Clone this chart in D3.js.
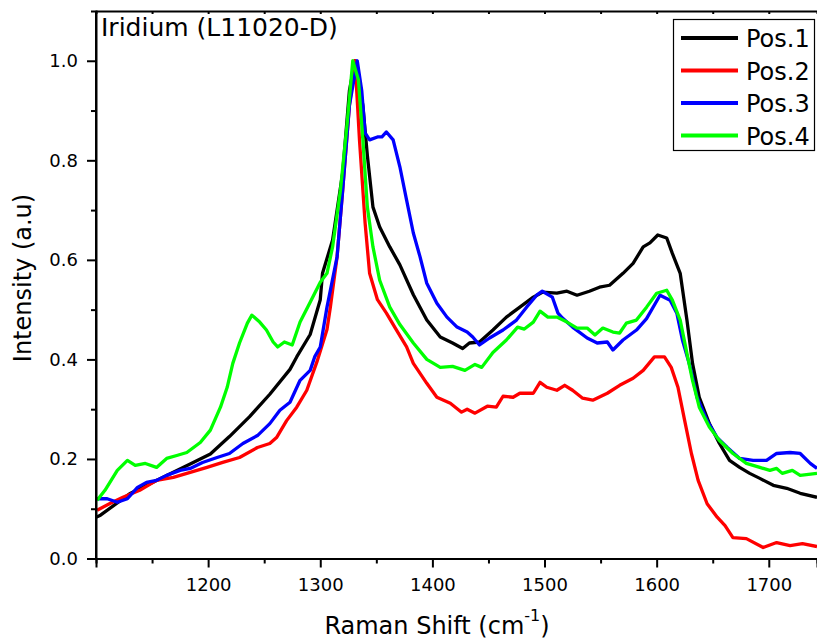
<!DOCTYPE html>
<html>
<head>
<meta charset="utf-8">
<script src="https://cdn.jsdelivr.net/npm/d3@7"></script>
<style>
    body { margin: 0; background: #fff; }
    text { font-family: "DejaVu Sans", Verdana, sans-serif; fill: #000; }
</style>
</head>
<body>
<div id="chart"></div>
<script>
// Raman spectra, [shift, intensity]
var pos1 = [[1100, 0.083], [1104, 0.087], [1130, 0.13], [1148, 0.15], [1184, 0.19], [1202, 0.21], [1219, 0.245],
    [1237, 0.285], [1255, 0.33], [1273, 0.38], [1279, 0.405], [1291, 0.45], [1300, 0.52], [1302, 0.573], [1311, 0.64],
    [1320, 0.775], [1326, 0.94], [1331, 1.0], [1338, 0.91], [1342, 0.81], [1347, 0.706], [1353, 0.666], [1362, 0.626],
    [1371, 0.59], [1383, 0.53], [1395, 0.479], [1407, 0.445], [1418, 0.433], [1427, 0.422], [1433, 0.433], [1442, 0.435],
    [1454, 0.459], [1466, 0.485], [1478, 0.505], [1490, 0.525], [1498, 0.535], [1511, 0.533], [1520, 0.537], [1529, 0.529],
    [1540, 0.537], [1549, 0.545], [1558, 0.549], [1570, 0.573], [1579, 0.593], [1588, 0.626], [1594, 0.634], [1601, 0.65],
    [1609, 0.644], [1614, 0.613], [1621, 0.573], [1627, 0.479], [1632, 0.392], [1638, 0.324], [1647, 0.271], [1656, 0.231],
    [1665, 0.197], [1674, 0.183], [1683, 0.171], [1692, 0.161], [1704, 0.147], [1716, 0.141], [1728, 0.131], [1743, 0.123]]

var pos2 = [[1101, 0.097], [1112, 0.11], [1124, 0.123], [1139, 0.137], [1154, 0.157], [1169, 0.163], [1184, 0.173],
    [1199, 0.183], [1213, 0.193], [1228, 0.203], [1244, 0.223], [1255, 0.231], [1261, 0.243], [1270, 0.277], [1279, 0.304],
    [1288, 0.338], [1297, 0.395], [1306, 0.46], [1309, 0.505], [1315, 0.606], [1320, 0.74], [1326, 0.91], [1331, 1.0],
    [1335, 0.84], [1340, 0.674], [1344, 0.573], [1351, 0.52], [1359, 0.493], [1368, 0.459], [1377, 0.425], [1383, 0.392],
    [1395, 0.352], [1404, 0.324], [1416, 0.312], [1426, 0.294], [1431, 0.3], [1438, 0.292], [1449, 0.306], [1457, 0.304],
    [1463, 0.326], [1472, 0.324], [1478, 0.332], [1490, 0.332], [1496, 0.354], [1502, 0.344], [1511, 0.338], [1518, 0.348],
    [1525, 0.338], [1534, 0.322], [1543, 0.318], [1556, 0.332], [1567, 0.348], [1579, 0.362], [1588, 0.378], [1598, 0.405],
    [1607, 0.405], [1613, 0.384], [1619, 0.344], [1625, 0.277], [1631, 0.211], [1637, 0.157], [1645, 0.11], [1654, 0.083],
    [1661, 0.066], [1668, 0.042], [1680, 0.04], [1695, 0.022], [1707, 0.032], [1719, 0.026], [1730, 0.03], [1743, 0.024]]

var pos3 = [[1101, 0.12], [1110, 0.12], [1119, 0.113], [1128, 0.12], [1137, 0.143], [1145, 0.153], [1154, 0.157],
    [1163, 0.167], [1175, 0.177], [1184, 0.181], [1195, 0.193], [1208, 0.203], [1219, 0.211], [1231, 0.231], [1244, 0.247],
    [1255, 0.271], [1264, 0.298], [1273, 0.314], [1282, 0.358], [1291, 0.378], [1295, 0.405], [1300, 0.425], [1306, 0.505],
    [1315, 0.606], [1320, 0.74], [1326, 0.91], [1333, 1.0], [1337, 0.94], [1340, 0.855], [1344, 0.841], [1351, 0.847],
    [1355, 0.847], [1359, 0.857], [1365, 0.841], [1371, 0.787], [1377, 0.72], [1383, 0.654], [1389, 0.606], [1395, 0.553],
    [1404, 0.513], [1413, 0.485], [1422, 0.465], [1431, 0.455], [1436, 0.445], [1442, 0.429], [1451, 0.443], [1463, 0.459],
    [1475, 0.479], [1484, 0.505], [1493, 0.529], [1498, 0.537], [1507, 0.525], [1512, 0.493], [1516, 0.483], [1525, 0.465],
    [1538, 0.443], [1547, 0.433], [1556, 0.435], [1561, 0.419], [1570, 0.439], [1582, 0.459], [1591, 0.482], [1603, 0.529],
    [1612, 0.519], [1618, 0.493], [1623, 0.439], [1630, 0.384], [1636, 0.324], [1645, 0.277], [1654, 0.243], [1663, 0.223],
    [1674, 0.201], [1686, 0.197], [1698, 0.197], [1707, 0.211], [1719, 0.213], [1728, 0.211], [1737, 0.191], [1743, 0.181]]

var pos4 = [[1101, 0.117], [1108, 0.137], [1119, 0.177], [1128, 0.197], [1135, 0.187], [1144, 0.191], [1154, 0.183],
    [1163, 0.201], [1172, 0.207], [1181, 0.213], [1193, 0.233], [1202, 0.258], [1211, 0.304], [1217, 0.344], [1222, 0.392],
    [1228, 0.433], [1235, 0.473], [1239, 0.489], [1246, 0.475], [1252, 0.459], [1258, 0.435], [1262, 0.425], [1268, 0.435],
    [1275, 0.429], [1282, 0.475], [1291, 0.515], [1300, 0.555], [1306, 0.573], [1311, 0.626], [1318, 0.74], [1324, 0.875],
    [1329, 1.0], [1334, 0.962], [1338, 0.841], [1342, 0.706], [1347, 0.626], [1353, 0.559], [1362, 0.505], [1371, 0.47],
    [1383, 0.433], [1395, 0.4], [1407, 0.384], [1418, 0.386], [1429, 0.378], [1438, 0.39], [1444, 0.384], [1454, 0.414],
    [1466, 0.439], [1476, 0.465], [1482, 0.461], [1490, 0.475], [1496, 0.497], [1503, 0.485], [1511, 0.485], [1520, 0.475],
    [1529, 0.463], [1538, 0.463], [1545, 0.449], [1552, 0.463], [1561, 0.455], [1567, 0.453], [1573, 0.473], [1582, 0.479],
    [1591, 0.505], [1600, 0.533], [1609, 0.539], [1614, 0.519], [1621, 0.479], [1627, 0.412], [1632, 0.358], [1638, 0.304],
    [1647, 0.264], [1656, 0.237], [1668, 0.211], [1680, 0.191], [1692, 0.183], [1701, 0.177], [1707, 0.181], [1712, 0.171],
    [1721, 0.177], [1728, 0.167], [1743, 0.171]]

var seriesNames = ["Pos.1", "Pos.2", "Pos.3", "Pos.4"]
var seriesColors = ["#000000", "#ff0000", "#0000ff", "#00ff00"]
var seriesData = [pos1, pos2, pos3, pos4]

var xMajor = [1200, 1300, 1400, 1500, 1600, 1700]
var xMinor = [1150, 1250, 1350, 1450, 1550, 1650]
var yMajor = [0.0, 0.2, 0.4, 0.6, 0.8, 1.0]
var yMinor = [0.1, 0.3, 0.5, 0.7, 0.9]

var width = 817, height = 639
var margin = { top: 11, right: 0, bottom: 81, left: 96 }

var svg = d3.select("#chart")
    .append("svg")
    .attr("width", width)
    .attr("height", height)

var x = d3.scaleLinear()
    .domain([1100, 1743])
    .range([margin.left, width - margin.right])

var y = d3.scaleLinear()
    .domain([0, 1.1])
    .range([height - margin.bottom + 0.5, margin.top])

// clip the spectra to the plot frame
svg.append("clipPath")
    .attr("id", "plot-clip")
    .append("rect")
    .attr("x", margin.left)
    .attr("y", margin.top)
    .attr("width", width - margin.left - margin.right)
    .attr("height", y(0) - margin.top)

var line = d3.line()
    .x(function(d) { return x(d[0]) })
    .y(function(d) { return y(d[1]) })

svg.append("g")
    .attr("clip-path", "url(#plot-clip)")
    .selectAll("path")
    .data(seriesData)
    .enter()
    .append("path")
    .attr("d", line)
    .style("fill", "none")
    .style("stroke", function(d, i) { return seriesColors[i] })
    .style("stroke-width", 3.3)
    .style("stroke-linejoin", "round")

// bottom axis: labelled majors + minors
var xAxis = svg.append("g")
    .attr("transform", "translate(0," + y(0) + ")")
    .call(d3.axisBottom(x).tickValues(xMajor).tickSize(9).tickPadding(11).tickFormat(d3.format("d")))
xAxis.append("g")
    .call(d3.axisBottom(x).tickValues(xMinor).tickSize(5).tickFormat(""))

var yAxis = svg.append("g")
    .attr("transform", "translate(" + margin.left + ",0)")
    .call(d3.axisLeft(y).tickValues(yMajor).tickSize(9).tickPadding(9).tickFormat(d3.format(".1f")))
yAxis.append("g")
    .call(d3.axisLeft(y).tickValues(yMinor).tickSize(5).tickFormat(""))

// top frame with small inward ticks
svg.append("g")
    .attr("transform", "translate(0," + margin.top + ")")
    .call(d3.axisTop(x).tickValues(xMajor.concat(xMinor)).tickSize(-3).tickFormat(""))

svg.selectAll(".domain")
    .attr("stroke", "#000")
    .attr("stroke-width", 2)
svg.selectAll(".tick line")
    .attr("stroke", "#000")
    .attr("stroke-width", 2)
svg.selectAll(".tick text")
    .style("font-size", "18px")
    .style("font-family", "DejaVu Sans, Verdana, sans-serif")

// left axis line should run the whole frame height
yAxis.select(".domain").attr("d", "M0," + y(0) + "V" + margin.top)

// titles
svg.append("text")
    .attr("x", 101)
    .attr("y", 36)
    .style("font-size", "25px")
    .text("Iridium (L11020-D)")

var xTitle = svg.append("text")
    .attr("x", 437)
    .attr("y", 634)
    .attr("text-anchor", "middle")
    .style("font-size", "24px")
xTitle.append("tspan").text("Raman Shift (cm")
xTitle.append("tspan").attr("dy", -13).style("font-size", "16px").text("-1")
xTitle.append("tspan").attr("dy", 13).text(")")

svg.append("text")
    .attr("transform", "translate(31," + 278 + ") rotate(-90)")
    .attr("text-anchor", "middle")
    .style("font-size", "24px")
    .text("Intensity (a.u)")

// legend
var legend = svg.append("g")
    .attr("transform", "translate(673,19)")

legend.append("rect")
    .attr("x", 0.5)
    .attr("y", 0.5)
    .attr("width", 141)
    .attr("height", 131)
    .style("fill", "#fff")
    .style("stroke", "#000")
    .style("stroke-width", 1.2)

var rows = legend.selectAll(".legend-row")
    .data(seriesNames)
    .enter()
    .append("g")
    .attr("class", "legend-row")
    .attr("transform", function(d, i) { return "translate(0," + (19 + i * 32.5) + ")" })

rows.append("line")
    .attr("x1", 8)
    .attr("x2", 65)
    .style("stroke", function(d, i) { return seriesColors[i] })
    .style("stroke-width", 4)

rows.append("text")
    .attr("x", 73)
    .attr("y", 9)
    .style("font-size", "24px")
    .text(function(d) { return d })
</script>
</body>
</html>
